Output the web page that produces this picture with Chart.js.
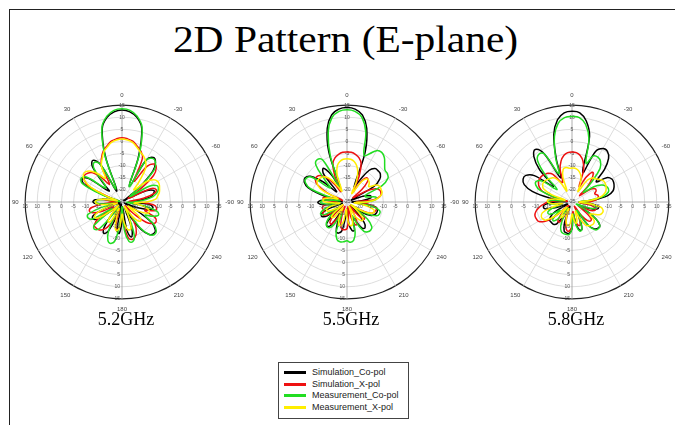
<!DOCTYPE html>
<html>
<head>
<meta charset="utf-8">
<script src="https://cdn.jsdelivr.net/npm/chart.js@4.4.1/dist/chart.umd.min.js"></script>
<style>
  body { margin: 0; background: #fff; width: 675px; height: 425px; overflow: hidden; position: relative; font-family: "Liberation Serif", serif; }
  .frameTop { position: absolute; left: 9px; top: 9px; width: 666px; height: 0; border-top: 1.5px solid #222; }
  .frameLeft { position: absolute; left: 9px; top: 9px; width: 0; height: 416px; border-left: 1.5px solid #222; }
  #title { position: absolute; left: 8px; width: 675px; top: 21px; text-align: center; font-size: 37px; line-height: 37px; color: #000; transform: scaleX(1.12); }
  canvas { position: absolute; }
  .freq { position: absolute; width: 100px; text-align: center; font-size: 18px; top: 309px; color: #000; }
  #legend { position: absolute; left: 278px; top: 362px; width: 131px; height: 57px; border: 1px solid #444; font-family: "Liberation Sans", Arial, sans-serif; font-size: 9px; color: #222; padding-top: 4px; box-sizing: border-box; }
  #legend div { height: 11.5px; line-height: 11.5px; margin-left: 5px; white-space: nowrap; }
  #legend span { display: inline-block; width: 22px; height: 3px; vertical-align: middle; margin-right: 6px; }
</style>
</head>
<body>
<div class="frameTop"></div>
<div class="frameLeft"></div>
<div id="title">2D Pattern (E-plane)</div>
<canvas id="p52" width="224" height="224" style="left:11px;top:90px"></canvas>
<canvas id="p55" width="224" height="224" style="left:236px;top:90px"></canvas>
<canvas id="p58" width="224" height="224" style="left:461px;top:90px"></canvas>
<div class="freq" style="left:76px">5.2GHz</div>
<div class="freq" style="left:301px">5.5GHz</div>
<div class="freq" style="left:526px">5.8GHz</div>
<div id="legend"></div>
<script>
// angles in degrees, counter-clockwise from the top (0 .. 355)
const angles = Array.from({ length: 72 }, (_, i) => i * 5);
const seriesNames = ['Simulation_Co-pol', 'Simulation_X-pol', 'Measurement_Co-pol', 'Measurement_X-pol'];
const seriesColors = ['#000000', '#ee1111', '#22dd22', '#ffee00'];
const rTicks = { min: -25, max: 15, step: 5 };

// 5.2 GHz
const simCo52 = [13, 12.4, 10.5, 6.5, -5, -20, -7, -4, -6, -14, -18, -8, -6, -8, -18, -24, -20, -14, -13, -15,
  -22, -24, -18, -12, -11, -13, -20, -24, -19, -12, -10, -12, -19, -24, -13, -12, -17, -23, -13, -10,
  -13, -22, -18, -11, -7.5, -6.5, -7, -10, -18, -24, -18, -13, -12, -14, -22, -18, -13, -11.5, -11, -14,
  -22, -24, -16, -7, -3.5, -2.5, -5, -18, -5, 6.5, 10.5, 12.4];
const simX52 = [1.5, 1.2, 0.5, -1, -2.5, -5, -8, -16, -12, -8, -6.5, -6, -7, -10, -20, -23, -17, -20, -23, -18,
  -12.5, -11, -12, -16, -21, -13, -10, -9.8, -10, -11, -13, -17, -22, -15, -13, -16, -22, -15, -10, -9,
  -9.5, -11, -14, -20, -23, -18, -12, -9.5, -8.7, -10, -15, -11, -10.5, -12, -18, -22, -16, -11, -10, -12,
  -22, -16, -8, -5, -4.5, -7, -15, -5, -2.5, -1, 0.5, 1.2];
const measCo52 = [13.5, 13, 11, 7, -4, -19, -7, -5, -7, -15, -16, -7, -5.5, -7, -16, -24, -19, -15, -14, -16,
  -22, -16, -10, -9.5, -11, -20, -10, -9, -11, -20, -22, -12, -8, -7.3, -9, -17, -23, -13, -8.5, -8,
  -10, -18, -22, -12, -7.5, -6, -6.5, -9, -14, -11, -9, -10, -16, -23, -20, -16, -12, -10, -9, -9,
  -12, -21, -15, -6, -3.5, -3, -5, -18, -4, 7, 11, 13];
const measX52 = [1, 0.7, 0, -1.5, -3, -5.5, -8, -13, -10, -7, -5.5, -5.5, -7, -11, -19, -23, -19, -15, -14, -15,
  -19, -23, -17, -13, -12, -14, -20, -23, -18, -15, -16, -22, -19, -14, -13, -15, -20, -17, -14, -13,
  -14, -19, -23, -18, -15, -14, -16, -22, -18, -14, -13, -14, -17, -20, -15, -11, -10, -9, -8.5, -8,
  -8, -9, -12, -18, -14, -8, -5.5, -4, -3, -1.5, 0, 0.7];

// 5.5 GHz
const simCo55 = [14, 13.5, 11.5, 6.5, -3, -18, -12, -8, -10, -19, -12, -6.5, -5, -5.5, -8, -15, -23, -16, -13, -14,
  -19, -23, -17, -13.5, -13, -15, -22, -14, -12, -13, -20, -16, -12, -11.7, -13, -19, -22, -16, -13, -13,
  -18, -16, -12.5, -12, -14, -21, -23, -18, -14, -12.5, -12, -12, -13, -18, -23, -19, -15, -15, -18, -23,
  -12, -8.5, -7, -6.8, -7, -9, -15, -18, -3, 6.5, 11.5, 13.5];
const simX55 = [-4.3, -4.4, -5, -6, -8, -13, -20, -16, -12, -9.5, -8.7, -9, -11, -16, -23, -18, -15, -16, -21, -18,
  -15, -14.5, -15, -14, -14, -17, -23, -17, -14, -14, -18, -23, -19, -15, -13.5, -13.5, -14, -18, -23, -18,
  -15, -15, -19, -23, -18, -15, -16, -21, -18, -14, -13, -12.5, -13, -17, -21, -14, -11, -10.5, -10.6, -12,
  -16, -22, -17, -13, -12, -14, -20, -13, -8, -6, -5, -4.4];
const measCo55 = [13.1, 12.6, 10.5, 5, -5, -18, -5, -3.6, -5, -12, -16, -7, -5.5, -6, -9, -18, -22, -16, -14, -16,
  -22, -17, -14, -13, -15, -22, -16, -13, -12, -12, -14, -20, -12, -9, -8.3, -8.5, -9, -8.3, -9, -12,
  -19, -15, -11, -10, -9.8, -10.5, -14, -21, -15, -11.5, -10.7, -11, -14, -21, -17, -13, -13, -17, -17, -9,
  -5.5, -4.6, -4.5, -3, -1, 0, -0.5, -3, -4.5, 5, 10.5, 12.6];
const measX55 = [-7.1, -7.3, -8, -9.5, -13, -20, -18, -14, -11.5, -10.5, -10, -10, -11, -14, -21, -19, -16, -15, -16, -20,
  -22, -18, -16, -16, -19, -23, -18, -16, -17, -22, -20, -17, -15, -15, -17, -22, -19, -16, -15, -16,
  -20, -23, -18, -16, -15, -16, -20, -23, -17, -14, -13, -14, -18, -22, -17, -13, -11, -10, -10, -10,
  -11, -14, -13, -12.4, -12.5, -15, -21, -16, -12, -9.5, -8, -7.3];

// 5.8 GHz
const simCo58 = [12.5, 12, 9.5, 4, -6, -14, -2, 1.5, -0.5, -6, -15, -6, -3, -2.7, -4, -8, -16, -23, -18, -14,
  -13, -14, -19, -23, -17, -14, -13, -13, -13, -14, -19, -23, -16, -12.5, -12, -12, -14, -20, -16, -13,
  -13, -17, -20, -13, -10.5, -9.7, -10, -13, -20, -22, -17, -14, -14, -17, -22, -16, -10, -7.5, -6.5, -6,
  -6, -7.5, -12, -6, -1.5, 0.5, 0.5, -2, -12, 3, 9, 12];
const simX58 = [-4.3, -4.5, -5.5, -7.5, -10.7, -16, -15, -11, -9.5, -9, -8.5, -8.5, -9, -10, -12, -17, -23, -19, -15, -13,
  -11, -9.5, -8.7, -8.7, -9, -11, -15, -23, -17, -15, -16, -22, -19, -15, -13, -13, -15, -21, -17, -15,
  -15, -19, -23, -18, -15, -14, -15, -20, -22, -17, -15, -15, -17, -22, -18, -15, -14, -14, -15, -14,
  -14, -16, -21, -16, -12, -10, -13, -18, -11, -7.5, -5.5, -4.5];
const measCo58 = [10.3, 10, 8, 3, -5, -12, -2, -1, -3, -10, -17, -10, -8, -8.5, -11, -18, -22, -17, -15, -16,
  -21, -19, -15, -14, -15, -19, -15, -14, -16, -22, -18, -14, -12, -11.5, -11.4, -11.5, -14, -20, -15, -12.5,
  -13, -18, -21, -13, -10, -9.5, -10, -13, -19, -23, -18, -15, -15, -18, -22, -18, -12, -9.5, -9, -9.5,
  -11, -14, -19, -14, -7, -4.5, -3.6, -4, -8, 2, 7.5, 10];
const measX58 = [-11, -11, -10.5, -11, -14, -20, -16, -13, -12, -11.5, -11, -10.7, -11, -12, -16, -22, -18, -15, -15, -17,
  -21, -16, -12, -11, -11, -12, -16, -22, -19, -17, -19, -22, -18, -16, -15, -16, -20, -18, -16, -17,
  -21, -18, -14, -13, -12.5, -12.4, -13, -16, -15, -12.5, -11.7, -11.7, -13, -18, -22, -17, -13, -11, -10, -9.5,
  -9.3, -9.5, -10.5, -11.4, -12, -14, -20, -17, -14, -12.5, -11.5, -11];

// radar draws clockwise from the top, the pattern runs counter-clockwise
const cwIndex = angles.map((_, j) => (angles.length - j) % angles.length);
function angleLabel(deg) {
  if (deg % 30 !== 0) return '';
  return String(deg <= 240 ? deg : deg - 360);
}

const sideTicks = {
  id: 'sideTicks',
  afterDraw(chart) {
    const s = chart.scales.r, c = chart.ctx;
    c.save();
    c.font = '5px "Liberation Sans", Arial';
    c.fillStyle = '#555';
    s.ticks.forEach((t, i) => {
      if (i === 0) return;
      [[18, 'center', 'top', 0, 2], [54, 'center', 'top', 0, 2], [36, 'right', 'middle', -2, 0]].forEach(([idx, al, bl, ox, oy]) => {
        const p = s.getPointPositionForValue(idx, t.value);
        c.textAlign = al;
        c.textBaseline = bl;
        c.fillText(String(t.value), p.x + ox, p.y + oy);
      });
    });
    c.restore();
  }
};

function drawPattern(id, series) {
  const drawOrder = [3, 2, 1, 0];
  new Chart(document.getElementById(id), {
    type: 'radar',
    data: {
      labels: cwIndex.map(i => angleLabel(angles[i])),
      datasets: series.map((s, k) => ({
        label: seriesNames[k],
        data: cwIndex.map(i => s[i]),
        borderColor: seriesColors[k],
        borderWidth: 1.5,
        pointRadius: 0,
        fill: false,
        tension: 0.4,
        order: drawOrder[k]
      }))
    },
    options: {
      responsive: false,
      animation: false,
      layout: { padding: 0 },
      plugins: { legend: { display: false }, tooltip: { enabled: false } },
      scales: {
        r: {
          min: rTicks.min,
          max: rTicks.max,
          ticks: { stepSize: rTicks.step, font: { size: 5 }, color: '#555', showLabelBackdrop: false },
          grid: {
            circular: true,
            color: ctx => (ctx.tick && ctx.tick.value === rTicks.max) ? '#222' : '#d4d4d4',
            lineWidth: ctx => (ctx.tick && ctx.tick.value === rTicks.max) ? 1.2 : 0.8
          },
          angleLines: {
            color: ctx => ctx.index % 18 === 0 ? '#999' : (ctx.index % 6 === 0 ? '#d4d4d4' : 'rgba(0,0,0,0)'),
            lineWidth: 0.8
          },
          pointLabels: { font: { size: 6 }, color: '#444', padding: 2 }
        }
      }
    },
    plugins: [sideTicks]
  });
}

drawPattern('p52', [simCo52, simX52, measCo52, measX52]);
drawPattern('p55', [simCo55, simX55, measCo55, measX55]);
drawPattern('p58', [simCo58, simX58, measCo58, measX58]);

// legend box
const legend = document.getElementById('legend');
seriesNames.forEach((name, k) => {
  const row = document.createElement('div');
  row.innerHTML = '<span style="background:' + seriesColors[k] + '"></span>' + name;
  legend.appendChild(row);
});
</script>
</body>
</html>
